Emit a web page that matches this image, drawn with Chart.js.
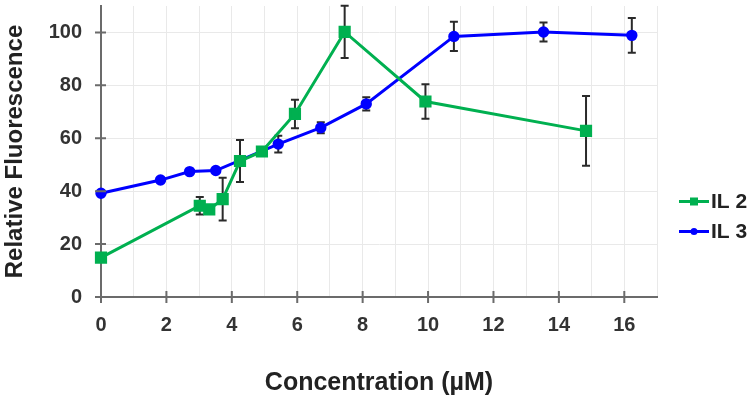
<!DOCTYPE html>
<html>
<head>
<meta charset="utf-8">
<script src="https://cdn.jsdelivr.net/npm/chart.js@4"></script>
<style>
  html, body { margin: 0; padding: 0; background: #ffffff; }
  #wrap { width: 755px; height: 405px; }
</style>
</head>
<body>
<div id="wrap"><canvas id="c" width="755" height="405"></canvas></div>
<script>
// ---- data ----
const seriesNames = ["IL 2", "IL 3"];
const il2X   = [0, 3.02, 3.31, 3.72, 4.25, 4.92, 5.93, 7.45, 9.92, 14.83];
const il2Y   = [14.9, 34.5, 33.1, 37.0, 51.4, 55.0, 69.2, 100.2, 73.9, 62.8];
const il2Err = [0, 3.3, 0, 8.1, 7.9, 0, 5.4, 9.9, 6.5, 13.2];
const il3X   = [0, 1.82, 2.71, 3.51, 5.42, 6.72, 8.11, 10.79, 13.53, 16.23];
const il3Y   = [39.2, 44.2, 47.4, 47.8, 57.8, 64.0, 73.0, 98.5, 100.2, 98.9];
const il3Err = [0, 0, 0, 0, 3.2, 2.1, 2.5, 5.5, 3.6, 6.6];
const xTickLabels = [0, 2, 4, 6, 8, 10, 12, 14, 16];
const yTickLabels = [0, 20, 40, 60, 80, 100];
const xTitle = "Concentration (\u00B5M)";
const yTitle = "Relative Fluorescence";

const GREEN = "#00b050";
const BLUE = "#0000ff";
const FONT = "'Liberation Sans', Arial, sans-serif";

function pts(xs, ys) { return xs.map((x, i) => ({ x: x, y: ys[i] })); }

const errorBars = {
  id: "errorBars",
  beforeDatasetsDraw(chart) {
    const ctx = chart.ctx, xs = chart.scales.x, ys = chart.scales.y;
    const sets = [[il2X, il2Y, il2Err], [il3X, il3Y, il3Err]];
    ctx.save();
    ctx.strokeStyle = "#2a2a2a";
    ctx.lineWidth = 2;
    sets.forEach(([X, Y, E]) => {
      X.forEach((xv, i) => {
        if (!E[i]) return;
        const px = xs.getPixelForValue(xv);
        const top = ys.getPixelForValue(Y[i] + E[i]);
        const bot = ys.getPixelForValue(Y[i] - E[i]);
        ctx.beginPath();
        ctx.moveTo(px, top); ctx.lineTo(px, bot);
        ctx.moveTo(px - 4, top); ctx.lineTo(px + 4, top);
        ctx.moveTo(px - 4, bot); ctx.lineTo(px + 4, bot);
        ctx.stroke();
      });
    });
    ctx.restore();
  }
};

const crossTicks = {
  id: "crossTicks",
  afterDraw(chart) {
    const ctx = chart.ctx, xs = chart.scales.x, ys = chart.scales.y;
    const a = chart.chartArea;
    ctx.save();
    ctx.strokeStyle = "#6b6b6b";
    ctx.lineWidth = 2;
    ctx.beginPath();
    xTickLabels.forEach(v => {
      const px = xs.getPixelForValue(v);
      ctx.moveTo(px, a.bottom - 6); ctx.lineTo(px, a.bottom + 6);
    });
    yTickLabels.forEach(v => {
      const py = ys.getPixelForValue(v);
      ctx.moveTo(a.left - 6, py); ctx.lineTo(a.left + 5, py);
    });
    ctx.stroke();
    ctx.restore();
  }
};

const customLegend = {
  id: "customLegend",
  afterDraw(chart) {
    const ctx = chart.ctx;
    const a = chart.chartArea;
    const x0 = a.right + 22, x1 = x0 + 30, mx = (x0 + x1) / 2;
    const rows = [201.5, 231.5];
    ctx.save();
    chart.data.datasets.forEach((ds, i) => {
      const y = rows[i];
      ctx.strokeStyle = ds.borderColor;
      ctx.lineWidth = 3;
      ctx.beginPath(); ctx.moveTo(x0, y); ctx.lineTo(x1, y); ctx.stroke();
      ctx.fillStyle = ds.borderColor;
      if (ds.pointStyle === "rect") {
        ctx.fillRect(mx - 4, y - 4, 8, 8);
      } else {
        ctx.beginPath(); ctx.arc(mx, y, 3.5, 0, Math.PI * 2); ctx.fill();
      }
      ctx.fillStyle = "#222";
      ctx.font = "bold 21px " + FONT;
      ctx.textBaseline = "middle";
      ctx.textAlign = "left";
      ctx.fillText(ds.label, x1 + 2, y + 1);
    });
    ctx.restore();
  }
};

new Chart(document.getElementById("c"), {
  type: "line",
  data: {
    datasets: [
      {
        label: seriesNames[0],
        data: pts(il2X, il2Y),
        borderColor: GREEN, backgroundColor: GREEN,
        borderWidth: 3, pointStyle: "rect", pointRadius: 6.5, pointHoverRadius: 6.5,
        tension: 0, clip: false
      },
      {
        label: seriesNames[1],
        data: pts(il3X, il3Y),
        borderColor: BLUE, backgroundColor: BLUE,
        borderWidth: 3, pointStyle: "circle", pointRadius: 4.2, pointHoverRadius: 4.2,
        tension: 0, clip: false
      }
    ]
  },
  options: {
    responsive: false,
    animation: false,
    devicePixelRatio: 1,
    layout: { autoPadding: false, padding: { top: 6, right: 98, left: 0, bottom: 0 } },
    plugins: { legend: { display: false }, tooltip: { enabled: false } },
    scales: {
      x: {
        type: "linear",
        min: 0, max: 17,
        afterFit(scale) { scale.height = 108; scale.paddingLeft = 0; scale.paddingRight = 0; },
        ticks: {
          stepSize: 1,
          autoSkip: false,
          maxRotation: 0,
          padding: 16,
          color: "#333",
          font: { family: FONT, size: 20, weight: "bold" },
          callback: v => (xTickLabels.includes(v) ? String(v) : "")
        },
        grid: { color: "#e9e9e9", lineWidth: 1, drawTicks: false },
        border: { display: true, color: "#6b6b6b", width: 2 },
        title: {
          display: true, text: xTitle, color: "#222",
          font: { family: FONT, size: 25, weight: "bold" },
          padding: { top: 0, bottom: 7 }
        }
      },
      y: {
        min: 0, max: 110,
        afterFit(scale) { scale.width = 101; scale.paddingTop = 0; scale.paddingBottom = 0; },
        ticks: {
          stepSize: 20,
          padding: 19,
          color: "#333",
          font: { family: FONT, size: 20, weight: "bold" },
          callback: v => (yTickLabels.includes(v) ? String(v) : null)
        },
        grid: { color: "#e9e9e9", lineWidth: 1, drawTicks: false },
        border: { display: true, color: "#6b6b6b", width: 2 },
        title: {
          display: true, text: yTitle, color: "#222",
          font: { family: FONT, size: 24, weight: "bold" },
          padding: { top: 1, bottom: 0 }
        }
      }
    }
  },
  plugins: [errorBars, crossTicks, customLegend]
});
</script>
</body>
</html>
